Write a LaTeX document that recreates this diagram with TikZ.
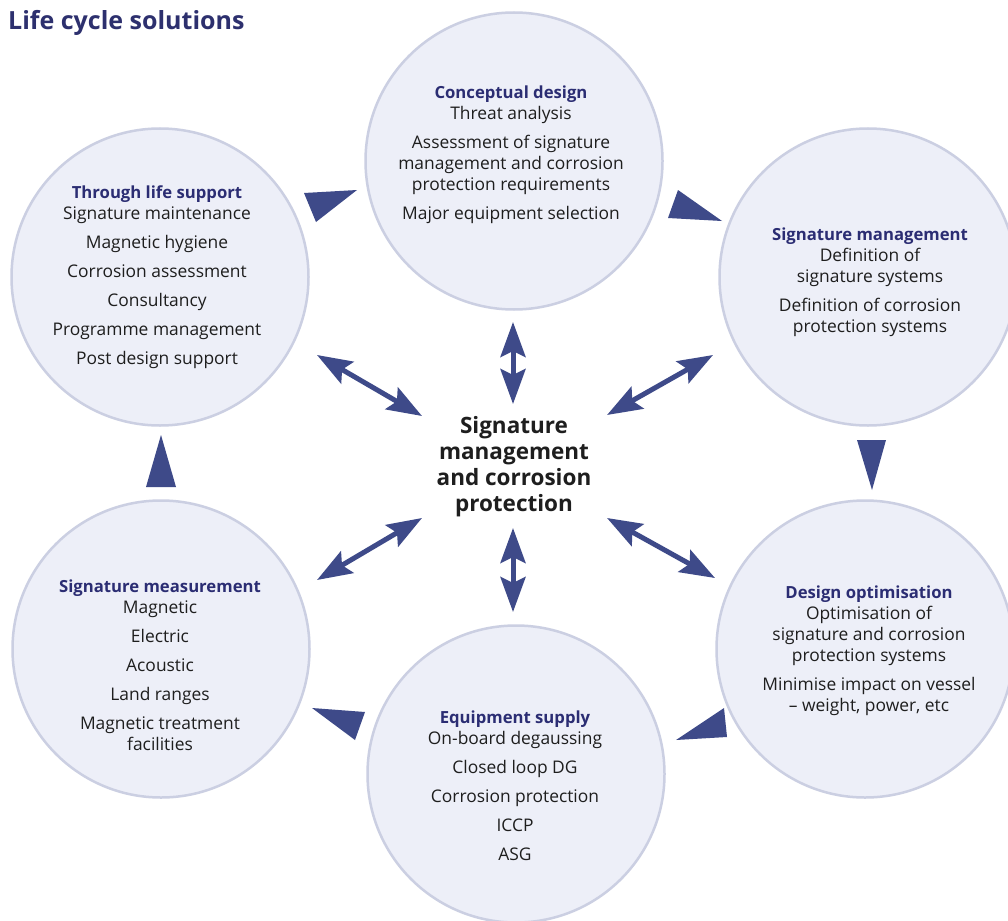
\documentclass[tikz,border=0pt]{standalone}
\usepackage{fontspec}
\setmainfont{Open Sans}
\usetikzlibrary{arrows.meta}
\definecolor{navy}{RGB}{62,74,137}
\definecolor{headc}{RGB}{43,45,115}
\definecolor{titlec}{RGB}{45,48,110}
\definecolor{bodyc}{RGB}{30,30,30}
\definecolor{cfill}{RGB}{237,239,248}
\definecolor{crim}{RGB}{203,207,226}
\newcommand\hd[1]{{\fontsize{16.7}{21}\selectfont\bfseries\color{headc}#1}}
\begin{document}
\begin{tikzpicture}[x=1pt,y=-1pt,
  bubble/.style={circle, fill=cfill, draw=crim, line width=2.5pt, minimum size=297pt, inner sep=0pt},
  txt/.style={align=center, font=\fontsize{17.4}{21}\selectfont, text=bodyc, inner sep=0pt},
  dbl/.style={{Stealth[length=35pt,width=25pt,inset=6pt]}-{Stealth[length=35pt,width=25pt,inset=6pt]}, line width=5pt, draw=navy},
  tri/.style={fill=navy}]
\useasboundingbox (0,0) rectangle (1008,920);
\clip (0,0) rectangle (1008,920);
\fill[white] (0,0) rectangle (1008,920);

\node[anchor=base west, font=\fontsize{25}{29}\selectfont\bfseries, text=titlec, inner sep=0pt] (title) at (8,30) {Life cycle solutions};

\node[bubble] (cd) at (514,161) {};
\node[bubble] (tls) at (160,277) {};
\node[bubble] (sm) at (868,277) {};
\node[bubble] (meas) at (161,649) {};
\node[bubble] (dopt) at (865,649) {};
\node[bubble] (eq) at (516,774) {};

\node[txt] (cdt) at (511,155) {\hd{Conceptual design}\\ Threat analysis\\[8pt] Assessment of signature\\ management and corrosion\\ protection requirements\\[8pt] Major equipment selection};
\node[txt] (tlst) at (157,277.5) {\hd{Through life support}\\ Signature maintenance\\[8pt] Magnetic hygiene\\[8pt] Corrosion assessment\\[8pt] Consultancy\\[8pt] Programme management\\[8pt] Post design support};
\node[txt] (smt) at (870,282) {\hd{Signature management}\\ Definition of\\ signature systems\\[8pt] Definition of corrosion\\ protection systems};
\node[txt] (meast) at (160,665) {\hd{Signature measurement}\\ Magnetic\\[8pt] Electric\\[8pt] Acoustic\\[8pt] Land ranges\\[8pt] Magnetic treatment\\ facilities};
\node[txt] (doptt) at (869,651) {\hd{Design optimisation}\\ Optimisation of\\ signature and corrosion\\ protection systems\\[8pt] Minimise impact on vessel\\ – weight, power, etc};
\node[txt] (eqt) at (515,785.5) {\hd{Equipment supply}\\ On-board degaussing\\[8pt] Closed loop DG\\[8pt] Corrosion protection\\[8pt] ICCP\\[8pt] ASG};

\node[align=center, font=\fontsize{22.5}{26}\selectfont\bfseries, text=bodyc, inner sep=0pt] (core) at (514,467) {Signature\\ management\\ and corrosion\\ protection};

\coordinate (upA) at (513,322); \coordinate (upB) at (513,404);
\coordinate (dnA) at (513,528); \coordinate (dnB) at (513,612);
\coordinate (ulA) at (317,355); \coordinate (ulB) at (422,416);
\coordinate (urA) at (713,355); \coordinate (urB) at (607,415);
\coordinate (llA) at (317,580); \coordinate (llB) at (422,518);
\coordinate (lrA) at (607,518); \coordinate (lrB) at (715,578);
\draw[dbl] (upA) -- (upB);
\draw[dbl] (dnA) -- (dnB);
\draw[dbl] (ulA) -- (ulB);
\draw[dbl] (urA) -- (urB);
\draw[dbl] (llA) -- (llB);
\draw[dbl] (lrA) -- (lrB);

\fill[tri] (304,193) -- (357,190) -- (316,222) -- cycle;
\fill[tri] (678,190) -- (668,218) -- (722,221) -- cycle;
\fill[tri] (857,440) -- (886,440) -- (872,490) -- cycle;
\fill[tri] (724,708) -- (676,740) -- (727,737) -- cycle;
\fill[tri] (312,708) -- (365,712) -- (355,740) -- cycle;
\fill[tri] (161,435) -- (146,487) -- (176,487) -- cycle;
\end{tikzpicture}
\end{document}
